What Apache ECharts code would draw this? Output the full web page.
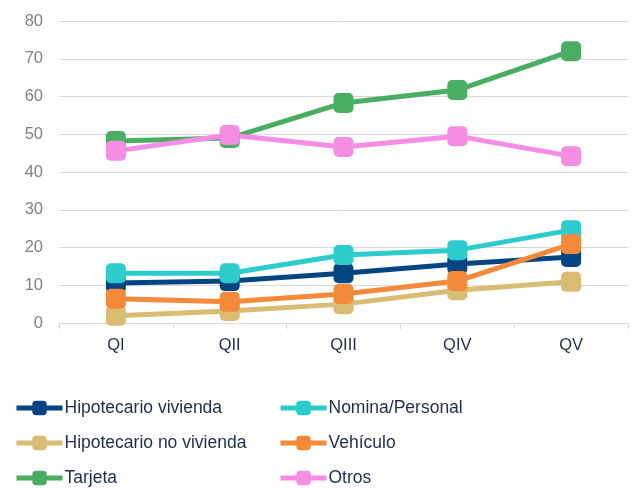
<!DOCTYPE html>
<html>
<head>
<meta charset="utf-8">
<script src="https://cdn.jsdelivr.net/npm/echarts@6/dist/echarts.min.js"></script>
<style>
html, body { margin: 0; padding: 0; background: #fff; }
#chart { width: 635px; height: 488px; }
</style>
</head>
<body>
<div id="chart"></div>
<script>
var categories = ['QI', 'QII', 'QIII', 'QIV', 'QV'];
var hipVivienda = [10.6, 11.1, 13.2, 15.6, 17.5];
var nomina = [13.2, 13.2, 18.0, 19.3, 24.6];
var hipNoVivienda = [1.9, 3.2, 5.0, 8.7, 10.9];
var vehiculo = [6.4, 5.6, 7.7, 11.1, 20.9];
var tarjeta = [48.2, 49.0, 58.3, 61.7, 72.0];
var otros = [45.6, 49.8, 46.6, 49.5, 44.2];

function line(name, data, color) {
    return {
        name: name,
        type: 'line',
        data: data,
        symbol: 'roundRect',
        symbolSize: 20,
        lineStyle: { width: 5, color: color },
        itemStyle: { color: color },
        emphasis: { disabled: true }
    };
}

var legendText = { color: '#1f2d4d', fontSize: 17.5, fontFamily: 'Liberation Sans', padding: [0, 0, 0, -3] };

function legendCol(left, names) {
    return {
        orient: 'vertical',
        left: left,
        top: 399,
        padding: 0,
        itemGap: 17,
        itemWidth: 46,
        itemHeight: 18,
        lineStyle: { width: 5 },
        textStyle: legendText,
        data: names
    };
}

var chart = echarts.init(document.getElementById('chart'));
chart.setOption({
    animation: false,
    textStyle: { fontFamily: 'Liberation Sans' },
    grid: { left: 59, right: 7, top: 21, bottom: 165 },
    legend: [
        legendCol(14, ['Hipotecario vivienda', 'Hipotecario no vivienda', 'Tarjeta']),
        legendCol(278, ['Nomina/Personal', 'Vehículo', 'Otros'])
    ],
    xAxis: {
        type: 'category',
        data: categories,
        axisLine: { lineStyle: { color: '#d9d9d9', width: 1 } },
        axisTick: { show: true, length: 6, lineStyle: { color: '#d9d9d9' } },
        axisLabel: { color: '#1f2d4d', fontSize: 16.5, margin: 14 }
    },
    yAxis: {
        type: 'value',
        min: 0,
        max: 80,
        interval: 10,
        axisLine: { show: false },
        axisTick: { show: false },
        axisLabel: { color: '#808080', fontSize: 16.5, margin: 16 },
        splitLine: { lineStyle: { color: '#d9d9d9', width: 1 } }
    },
    // later series draw on top, as in the original
    series: [
        line('Hipotecario vivienda', hipVivienda, '#034583'),
        line('Nomina/Personal', nomina, '#2dcccc'),
        line('Hipotecario no vivienda', hipNoVivienda, '#d9bc72'),
        line('Vehículo', vehiculo, '#f5893a'),
        line('Tarjeta', tarjeta, '#4aae62'),
        line('Otros', otros, '#f48de3')
    ]
});
</script>
</body>
</html>
